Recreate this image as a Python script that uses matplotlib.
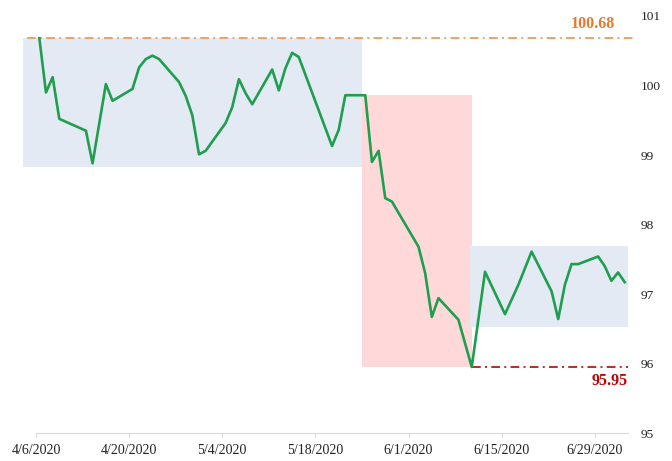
import matplotlib.pyplot as plt
import matplotlib.dates as mdates
from matplotlib.patches import Rectangle
from datetime import datetime, timedelta

plt.rcParams['font.family'] = ['Liberation Serif', 'DejaVu Serif']

# daily closes
dates = ['4/6', '4/7', '4/8', '4/9', '4/13', '4/14', '4/16', '4/17', '4/20', '4/21',
         '4/22', '4/23', '4/24', '4/25', '4/26', '4/27', '4/28', '4/29', '4/30', '5/1',
         '5/4', '5/5', '5/6', '5/7', '5/8', '5/11', '5/12', '5/13', '5/14', '5/15',
         '5/20', '5/21', '5/22', '5/23', '5/25', '5/26', '5/27', '5/28', '5/29', '6/2',
         '6/3', '6/4', '6/5', '6/8', '6/10', '6/12', '6/15', '6/17', '6/19', '6/22',
         '6/23', '6/24', '6/25', '6/26', '6/29', '6/30', '7/1', '7/2', '7/3']
values = [100.68, 99.90, 100.12, 99.52, 99.35, 98.88, 100.02, 99.78, 99.95, 100.26,
          100.38, 100.43, 100.38, 100.27, 100.16, 100.05, 99.85, 99.57, 99.01, 99.06,
          99.46, 99.69, 100.09, 99.89, 99.73, 100.23, 99.93, 100.25, 100.47, 100.41,
          99.13, 99.36, 99.86, 99.86, 99.86, 98.90, 99.06, 98.38, 98.33, 97.68,
          97.30, 96.67, 96.94, 96.63, 95.95, 97.32, 96.71, 97.13, 97.61, 97.04,
          96.64, 97.13, 97.43, 97.43, 97.54, 97.40, 97.19, 97.31, 97.17]

high_val = 100.68
low_val = 95.95

# boxes: (start date, end date, low, high)
box_range1 = ('4/4', '5/25', 98.83, 100.68)
box_drop = ('5/25', '6/10 12:00', 95.95, 99.86)
box_range2 = ('6/10 06:00', '7/4', 96.52, 97.69)

xticks = ['4/6', '4/20', '5/4', '5/18', '6/1', '6/15', '6/29']


def to_dt(s):
    parts = s.split()
    m, d = parts[0].split('/')
    dt = datetime(2020, int(m), int(d))
    if len(parts) > 1:
        dt += timedelta(hours=int(parts[1].split(':')[0]))
    return dt


x = [to_dt(d) + timedelta(hours=12) for d in dates]

fig = plt.figure(figsize=(6.72, 4.61), dpi=100)
ax = fig.add_axes([0.0536, 0.0607, 0.8810, 0.9046])

box_colors = ['#E4EAF4', '#FFD9D9', '#E4EAF4']
for (a, b, lo, hi), c in zip([box_range1, box_drop, box_range2], box_colors):
    xa = mdates.date2num(to_dt(a))
    xb = mdates.date2num(to_dt(b))
    ax.add_patch(Rectangle((xa, lo), xb - xa, hi - lo, facecolor=c,
                           edgecolor='none', zorder=1, clip_on=False))

ax.plot(x, values, color='#1E9E4E', lw=1.9, zorder=3)

# max / min reference lines
x_start = mdates.date2num(to_dt('4/4') + timedelta(hours=14))
x_end = mdates.date2num(to_dt('7/4') + timedelta(hours=20))
ax.plot([x_start, x_end], [high_val, high_val], color='#F5A05A', lw=1.4,
        dashes=(4.5, 2.2, 1, 2.2), zorder=2, clip_on=False)
x_min = x[values.index(low_val)]
ax.plot([x_min, to_dt('7/4')], [low_val, low_val], color='#C0282D', lw=1.4,
        dashes=(4.5, 2.2, 1, 2.2), zorder=2, clip_on=False)

ax.text(to_dt('7/2'), high_val + 0.2, f'{high_val:.2f}', color='#E8792B',
        fontsize=11.5, fontweight='bold', ha='right', va='center')
ax.text(to_dt('7/4'), low_val - 0.2, f'{low_val:.2f}', color='#C00000',
        fontsize=11.5, fontweight='bold', ha='right', va='center')

ax.set_xlim(to_dt('4/6'), to_dt('7/4'))
ax.set_ylim(95, 101)
ax.set_xticks([to_dt(t) for t in xticks])
ax.set_xticklabels([t + '/2020' for t in xticks], fontsize=10, color='#222222')
ax.yaxis.tick_right()
ax.set_yticks(range(95, 102))
ax.tick_params(axis='y', length=0, labelsize=9.6, pad=9, labelcolor='#222222')
ax.tick_params(axis='x', length=3, color='#D9D9D9', pad=5)

for s in ['top', 'left', 'right']:
    ax.spines[s].set_visible(False)
ax.spines['bottom'].set_color('#D9D9D9')

fig.savefig('out.png', dpi=100)
